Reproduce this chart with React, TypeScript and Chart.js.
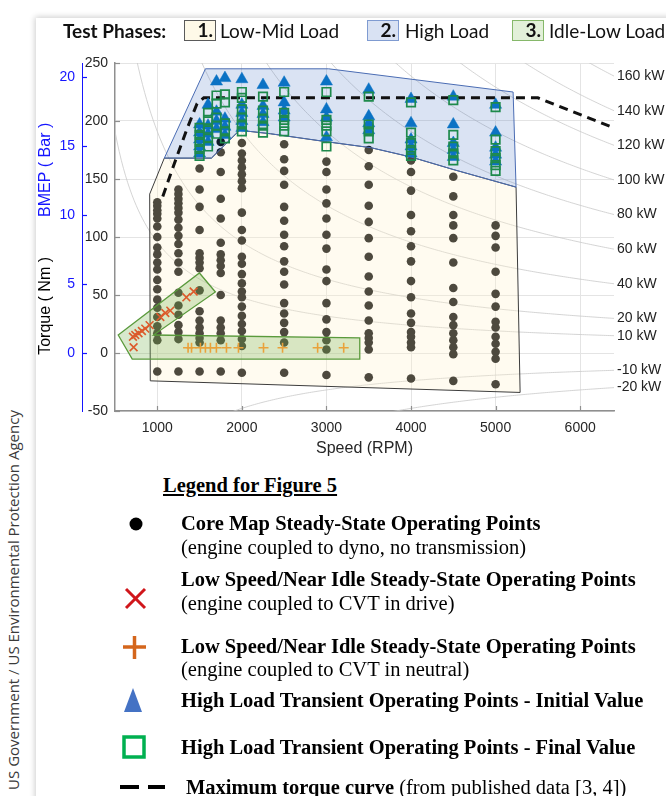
import React, { useEffect, useRef } from 'react';
import { Chart, registerables } from 'chart.js';

Chart.register(...registerables);

// ---------------- axes ----------------
const xTicks = [1000, 2000, 3000, 4000, 5000, 6000];
const torqueTicks = [-50, 0, 50, 100, 150, 200, 250];
const bmepTicks = [0, 5, 10, 15, 20];
const rpmRange = [500, 6400];
const torqueRange = [-50, 250];
const nmPerBar = 11.9;

// constant power reference lines (kW)
const powerKW = [160, 140, 120, 100, 80, 60, 40, 20, 10, -10, -20];

// ---------------- core map steady-state points ----------------
const coreRpm = [1000, 1250, 1500, 1750, 2000, 2500, 3000, 3500, 4000, 4500, 5000];
const coreTorque = [
  [130, 127, 123, 120, 116, 109, 100, 91, 85, 78, 72, 63, 55, 46, 39, 31, 23, 17, 11, -16],
  [141, 137, 133, 129, 125, 121, 115, 108, 101, 94, 86, 78, 70, 52, 41, 33, 24, 18, 12, -16],
  [159, 141, 126, 106, 86, 82, 78, 73, 54, 36, 28, 22, 17, 13, 9, -16],
  [182, 173, 156, 133, 116, 95, 85, 80, 75, 69, 50, 28, 22, 17, 11, -16],
  [181, 172, 166, 160, 154, 148, 142, 121, 106, 97, 83, 77, 68, 60, 53, 48, 40, 32, 25, 19, 12, 6, -17],
  [180, 167, 157, 145, 126, 114, 102, 92, 79, 70, 59, 43, 34, 26, 18, 9, -17],
  [165, 156, 141, 129, 116, 102, 90, 72, 62, 43, 29, 18, 11, 3, -19],
  [175, 161, 145, 127, 113, 99, 83, 66, 53, 41, 28, 17, 13, 9, 3, -21],
  [166, 156, 140, 119, 105, 92, 79, 62, 48, 34, 26, 18, 14, 9, 5, -22],
  [152, 135, 119, 110, 99, 78, 56, 44, 31, 24, 17, 11, 5, -1, -24],
  [110, 101, 91, 70, 51, 40, 27, 22, 14, 8, 1, -5, -27],
];

// ---------------- high load transient points ----------------
const hlRpm = [1500, 1600, 1700, 1800, 2000, 2250, 2500, 3000, 3500, 4000, 4500, 5000];
const hlInitialTorque = [
  [197, 190, 184, 178, 172],
  [214, 196, 189, 182],
  [234, 208, 200, 193],
  [237, 202, 195, 188],
  [236, 214, 207, 200, 194],
  [231, 213, 206, 199],
  [233, 216, 209, 203],
  [234, 210, 203, 186],
  [227, 204, 198, 192],
  [219, 198, 184, 178, 172],
  [221, 197, 181, 175, 169],
  [214, 190, 177, 171, 165],
];
const hlFinalTorque = [
  [194, 188, 182, 176, 170],
  [207, 201, 192, 186, 178],
  [222, 215, 203, 196, 189],
  [223, 216, 198, 191, 185],
  [225, 220, 210, 203, 197, 191],
  [221, 209, 202, 196, 190],
  [225, 207, 201, 196, 191],
  [225, 201, 196, 191, 178],
  [221, 197, 191, 185],
  [216, 190, 181, 175, 170],
  [218, 188, 178, 172, 166],
  [212, 184, 174, 168, 162, 157],
];

// ---------------- low speed / near idle ----------------
const cvtDriveRpm = [720, 712, 740, 778, 818, 858, 909, 1036, 1095, 1154, 1344, 1430];
const cvtDriveTorque = [5, 14, 15.5, 17, 19, 21, 24, 31, 34.5, 36.5, 48, 53];
const cvtNeutralRpm = [1364, 1405, 1510, 1569, 1628, 1699, 1818, 1960, 2256, 2481, 2896, 3204];
const cvtNeutralTorque = [4.5, 4.5, 4.5, 4.5, 4.5, 4.5, 4.5, 4.5, 4.5, 4.5, 4.5, 4.5];

// ---------------- maximum torque curve ----------------
const maxTorqueRpm = [1065, 1200, 1350, 1470, 1550, 5500, 6400];
const maxTorqueNm = [135, 163, 193, 215, 220, 220, 194];

// ---------------- test phase regions ----------------
const phase1Rpm = [910, 1083, 1640, 1972, 2339, 3015, 3524, 3998, 4508, 5242, 5290, 917];
const phase1Torque = [137, 168, 168, 192, 189, 182, 177, 169, 158, 143, -34, -24];
const phase2Rpm = [1083, 1569, 3026, 5207, 5242, 4508, 3998, 3524, 3015, 2339, 1972, 1640];
const phase2Torque = [168, 245, 245, 225, 143, 158, 169, 177, 182, 189, 192, 168];
const phase3Rpm = [538, 1498, 1687, 955, 3394, 3394, 704];
const phase3Torque = [15.5, 69, 52.6, 15.5, 13, -5.2, -5.2];

// ----------------------------------------------------------
const SANS = '"Liberation Sans", Arial, sans-serif';
const SERIF = '"Liberation Serif", "Times New Roman", serif';

const pts = (xs: number[], ys: number[]) => xs.map((x, i) => ({ x, y: ys[i] }));
const colPts = (xs: number[], cols: number[][]) => xs.flatMap((x, i) => cols[i].map((y) => ({ x, y })));
const torqueAtPower = (kw: number, rpm: number) => (kw * 60000) / (2 * Math.PI * rpm);

function buildConfig(): any {
  const curveRpm: number[] = [];
  for (let r = rpmRange[0]; r <= rpmRange[1]; r += 25) curveRpm.push(r);

  const powerSets = powerKW.map((kw) => ({
    label: `${kw} kW`,
    data: curveRpm.map((r) => ({ x: r, y: torqueAtPower(kw, r) })),
    showLine: true,
    pointRadius: 0,
    pointHitRadius: 0,
    borderColor: '#c9c9c9',
    borderWidth: 0.8,
    order: 10,
  }));

  const datasets: any[] = [
    ...powerSets,
    {
      label: 'core',
      data: colPts(coreRpm, coreTorque),
      pointStyle: 'circle',
      pointRadius: 4.3,
      backgroundColor: '#000',
      borderWidth: 0,
      order: 9,
    },
    {
      label: 'maxTorque',
      data: pts(maxTorqueRpm, maxTorqueNm),
      showLine: true,
      pointRadius: 0,
      borderColor: '#111',
      borderWidth: 3,
      borderDash: [9, 6],
      order: 8,
    },
    {
      label: 'neutral',
      data: pts(cvtNeutralRpm, cvtNeutralTorque),
      pointStyle: 'cross',
      pointRadius: 5,
      borderColor: '#e9a23b',
      backgroundColor: '#e9a23b',
      borderWidth: 1.6,
      order: 5,
    },
    {
      label: 'drive',
      data: pts(cvtDriveRpm, cvtDriveTorque),
      pointStyle: 'crossRot',
      pointRadius: 5.5,
      borderColor: '#dc5a2c',
      backgroundColor: '#dc5a2c',
      borderWidth: 1.6,
      order: 4,
    },
    {
      label: 'initial',
      data: colPts(hlRpm, hlInitialTorque),
      pointStyle: 'triangle',
      pointRadius: 7,
      backgroundColor: '#0b72c4',
      borderColor: '#0b72c4',
      borderWidth: 0.5,
      order: 3,
    },
    {
      label: 'final',
      data: colPts(hlRpm, hlFinalTorque),
      pointStyle: 'rect',
      pointRadius: 6,
      backgroundColor: 'rgba(0,0,0,0)',
      borderColor: '#1e8a4c',
      borderWidth: 1.7,
      order: 2,
    },
  ];

  const phasePlugin = {
    id: 'phasePolys',
    afterDatasetDraw(chart: any, args: any) {
      const ds = chart.data.datasets[args.index];
      if (!ds || ds.label !== 'core') return;
      const { ctx, chartArea } = chart;
      const xs = chart.scales.x;
      const ys = chart.scales.y;
      ctx.save();
      ctx.beginPath();
      ctx.rect(chartArea.left, chartArea.top, chartArea.right - chartArea.left, chartArea.bottom - chartArea.top);
      ctx.clip();
      const poly = (rpm: number[], tq: number[], fill: string, stroke: string, lw: number) => {
        ctx.beginPath();
        rpm.forEach((r, i) => {
          const px = xs.getPixelForValue(r);
          const py = ys.getPixelForValue(tq[i]);
          if (i === 0) ctx.moveTo(px, py);
          else ctx.lineTo(px, py);
        });
        ctx.closePath();
        ctx.fillStyle = fill;
        ctx.fill();
        ctx.strokeStyle = stroke;
        ctx.lineWidth = lw;
        ctx.stroke();
      };
      poly(phase1Rpm, phase1Torque, 'rgba(255,242,204,0.30)', '#3c3c3c', 1);
      poly(phase2Rpm, phase2Torque, 'rgba(68,114,196,0.20)', '#4a6cb3', 1);
      poly(phase3Rpm, phase3Torque, 'rgba(112,173,71,0.27)', '#5a9a3c', 1.3);
      ctx.restore();
    },
  };

  const decorPlugin = {
    id: 'decor',
    afterDraw(chart: any) {
      const { ctx, chartArea } = chart;
      const xs = chart.scales.x;
      const ys = chart.scales.y;
      const bs = chart.scales.bmep;
      ctx.save();
      // inward tick marks
      ctx.lineWidth = 1.2;
      ctx.strokeStyle = '#8f8f8f';
      xTicks.forEach((v) => {
        const px = Math.round(xs.getPixelForValue(v)) + 0.5;
        ctx.beginPath();
        ctx.moveTo(px, chartArea.bottom);
        ctx.lineTo(px, chartArea.bottom - 5);
        ctx.stroke();
      });
      torqueTicks.forEach((v) => {
        const py = Math.round(ys.getPixelForValue(v)) + 0.5;
        ctx.beginPath();
        ctx.moveTo(chartArea.left, py);
        ctx.lineTo(chartArea.left + 5, py);
        ctx.stroke();
      });
      ctx.strokeStyle = '#1515ff';
      bmepTicks.forEach((v) => {
        const py = Math.round(bs.getPixelForValue(v)) + 0.5;
        ctx.beginPath();
        ctx.moveTo(bs.right, py);
        ctx.lineTo(bs.right + 5, py);
        ctx.stroke();
      });
      // power labels at the right edge
      ctx.font = `14px ${SANS}`;
      ctx.fillStyle = '#222';
      ctx.textAlign = 'left';
      ctx.textBaseline = 'middle';
      powerKW.forEach((kw) => {
        const py = ys.getPixelForValue(torqueAtPower(kw, rpmRange[1]));
        ctx.fillText(`${kw} kW`, chartArea.right + 3, py);
      });
      // rotated axis titles
      const h = chartArea.bottom - chartArea.top;
      const tx = bs.left + 4;
      ctx.font = `16px ${SANS}`;
      ctx.textAlign = 'center';
      ctx.save();
      ctx.translate(tx, chartArea.top + 0.307 * h);
      ctx.rotate(-Math.PI / 2);
      ctx.fillStyle = '#1515ff';
      ctx.fillText('BMEP ( Bar )', 0, 0);
      ctx.restore();
      ctx.save();
      ctx.translate(tx, chartArea.top + 0.698 * h);
      ctx.rotate(-Math.PI / 2);
      ctx.fillStyle = '#000';
      ctx.fillText('Torque ( Nm )', 0, 0);
      ctx.restore();
      ctx.restore();
    },
  };

  const setTicks = (vals: number[]) => (s: any) => {
    s.ticks = vals.map((v) => ({ value: v }));
  };

  return {
    type: 'scatter',
    data: { datasets },
    plugins: [phasePlugin, decorPlugin],
    options: {
      animation: false,
      responsive: false,
      maintainAspectRatio: false,
      layout: { padding: { left: 42, right: 52, top: 63, bottom: 12 } },
      plugins: { legend: { display: false }, tooltip: { enabled: false } },
      events: [],
      scales: {
        x: {
          type: 'linear',
          position: 'bottom',
          min: rpmRange[0],
          max: rpmRange[1],
          afterBuildTicks: setTicks(xTicks),
          afterFit: (s: any) => {
            s.height = 47;
          },
          grid: { color: '#e4e4e4', drawTicks: false },
          border: { color: '#8f8f8f', width: 1.5 },
          ticks: { padding: 9, color: '#262626', font: { size: 14, family: SANS }, callback: (v: any) => String(v) },
          title: { display: true, text: 'Speed (RPM)', color: '#262626', font: { size: 16, family: SANS }, padding: { top: 0, bottom: 0 } },
        },
        y: {
          type: 'linear',
          position: 'left',
          min: torqueRange[0],
          max: torqueRange[1],
          afterBuildTicks: setTicks(torqueTicks),
          afterFit: (s: any) => {
            s.width = 33;
          },
          grid: { color: '#e4e4e4', drawTicks: false },
          border: { color: '#8f8f8f', width: 1.5 },
          ticks: { padding: 7, color: '#262626', font: { size: 14, family: SANS }, callback: (v: any) => String(v) },
        },
        bmep: {
          type: 'linear',
          axis: 'y',
          position: 'left',
          weight: 1,
          min: torqueRange[0] / nmPerBar,
          max: torqueRange[1] / nmPerBar,
          afterBuildTicks: setTicks(bmepTicks),
          afterFit: (s: any) => {
            s.width = 40;
          },
          grid: { drawOnChartArea: false, drawTicks: false, color: 'rgba(0,0,0,0)' },
          border: { color: '#1515ff', width: 1 },
          ticks: { padding: 7, color: '#1515ff', font: { size: 14, family: SANS }, callback: (v: any) => String(v) },
        },
      },
    },
  };
}

const abs = (o: any) => ({ position: 'absolute' as const, ...o });

function LegendLine({ top, left, children, bold }: any) {
  return (
    <div
      style={abs({
        top: top - 12,
        left,
        height: 24,
        lineHeight: '24px',
        fontFamily: SERIF,
        fontSize: 20.5,
        fontWeight: bold ? 700 : 400,
        color: '#000',
        whiteSpace: 'nowrap',
      })}
    >
      {children}
    </div>
  );
}

function PhaseBox({ left, label, bg, border }: any) {
  return (
    <div
      style={abs({
        left,
        top: 20,
        width: 32,
        height: 21,
        boxSizing: 'border-box',
        background: bg,
        border: `1.5px solid ${border}`,
        textAlign: 'right',
        paddingRight: 2,
        lineHeight: '18px',
        fontFamily: 'Lato, "Noto Sans", sans-serif',
        fontWeight: 700,
        fontSize: 19,
        color: '#111',
      })}
    >
      {label}
    </div>
  );
}

function TopText({ left, children, bold }: any) {
  return (
    <div
      style={abs({
        left,
        top: 19,
        height: 23,
        lineHeight: '23px',
        fontFamily: 'Lato, "Noto Sans", sans-serif',
        fontWeight: bold ? 700 : 400,
        fontSize: 19,
        color: '#111',
        whiteSpace: 'nowrap',
      })}
    >
      {children}
    </div>
  );
}

export default function App() {
  const ref = useRef<HTMLCanvasElement | null>(null);
  useEffect(() => {
    if (!ref.current) return;
    const chart = new Chart(ref.current, buildConfig());
    return () => chart.destroy();
  }, []);

  return (
    <div style={{ position: 'fixed', left: 0, top: 0, width: 666, height: 796, background: '#fff', overflow: 'hidden' }}>
      <div
        style={abs({
          left: 36,
          top: 18,
          width: 700,
          height: 820,
          background: '#fff',
          boxShadow: '0 0 6px 1px rgba(0,0,0,0.2)',
        })}
      />
      <div
        style={abs({
          left: 12.5,
          top: 600,
          transform: 'translate(-50%, -50%) rotate(-90deg)',
          whiteSpace: 'nowrap',
          fontFamily: '"Open Sans", "Noto Sans", sans-serif',
          fontSize: 15,
          lineHeight: '18px',
          color: '#3a3a3a',
        })}
      >
        US Government / US Environmental Protection Agency
      </div>
      <canvas ref={ref} width={666} height={470} style={abs({ left: 0, top: 0, width: 666, height: 470 })} />

      <TopText left={63} bold>
        Test Phases:
      </TopText>
      <PhaseBox left={184} label="1." bg="#fef9e8" border="#5a5a5a" />
      <TopText left={220}>Low-Mid Load</TopText>
      <PhaseBox left={367} label="2." bg="#d9e2f3" border="#7f9bd1" />
      <TopText left={405}>High Load</TopText>
      <PhaseBox left={512} label="3." bg="#e2f0d9" border="#86b86a" />
      <TopText left={549}>Idle-Low Load</TopText>

      <div
        style={abs({
          left: 163,
          top: 473,
          height: 24,
          lineHeight: '24px',
          fontFamily: SERIF,
          fontSize: 20.5,
          fontWeight: 700,
          textDecoration: 'underline',
          whiteSpace: 'nowrap',
          color: '#000',
        })}
      >
        Legend for Figure 5
      </div>

      <svg width={666} height={796} style={abs({ left: 0, top: 0 })}>
        <circle cx={136} cy={524} r={6.5} fill="#000" />
        <line x1={126} y1={589} x2={145} y2={608} stroke="#d0161b" strokeWidth={3} />
        <line x1={145} y1={589} x2={126} y2={608} stroke="#d0161b" strokeWidth={3} />
        <line x1={123} y1={647} x2={146} y2={647} stroke="#d4661c" strokeWidth={3.5} />
        <line x1={134.5} y1={636} x2={134.5} y2={659} stroke="#d4661c" strokeWidth={3.5} />
        <polygon points="133,688 124,712 142,712" fill="#4472c4" />
        <rect x={124} y={737} width={20} height={20} fill="none" stroke="#00b050" strokeWidth={3.5} />
        <rect x={120} y={785} width={19} height={4} fill="#000" />
        <rect x={148} y={785} width={17} height={4} fill="#000" />
      </svg>

      <LegendLine top={523} left={181} bold>
        Core Map Steady-State Operating Points
      </LegendLine>
      <LegendLine top={547} left={181}>
        (engine coupled to dyno, no transmission)
      </LegendLine>
      <LegendLine top={579} left={181} bold>
        Low Speed/Near Idle Steady-State Operating Points
      </LegendLine>
      <LegendLine top={603} left={181}>
        (engine coupled to CVT in drive)
      </LegendLine>
      <LegendLine top={646} left={181} bold>
        Low Speed/Near Idle Steady-State Operating Points
      </LegendLine>
      <LegendLine top={669} left={181}>
        (engine coupled to CVT in neutral)
      </LegendLine>
      <LegendLine top={700} left={181} bold>
        High Load Transient Operating Points - Initial Value
      </LegendLine>
      <LegendLine top={747} left={181} bold>
        High Load Transient Operating Points - Final Value
      </LegendLine>
      <LegendLine top={787} left={186}>
        <b>Maximum torque curve</b> (from published data [3, 4])
      </LegendLine>
    </div>
  );
}
